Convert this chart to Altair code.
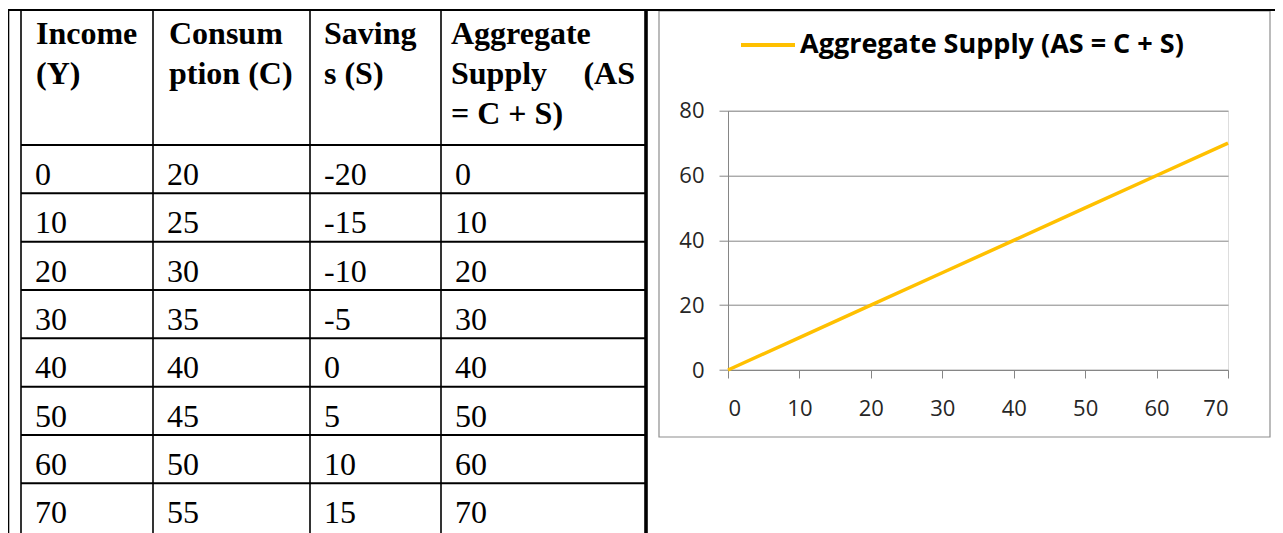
import altair as alt
import pandas as pd

# ---------------- data ----------------
income = [0, 10, 20, 30, 40, 50, 60, 70]
consumption = [20, 25, 30, 35, 40, 45, 50, 55]
saving = [-20, -15, -10, -5, 0, 5, 10, 15]
agg_supply = [0, 10, 20, 30, 40, 50, 60, 70]
header_lines = [
    ["Income", "(Y)"],
    ["Consum", "ption (C)"],
    ["Saving", "s (S)"],
    ["Aggregate", "Supply", "= C + S)"],
]
header_justified_tail = "(AS"          # right end of line 2 in column 4
series_name = "Aggregate Supply (AS = C + S)"
x_ticks = [0, 10, 20, 30, 40, 50, 60, 70]
y_ticks = [0, 20, 40, 60, 80]

# ---------------- layout (page pixels) ----------------
PAGE_W, PAGE_H = 1283, 533
ORIGIN_X, ORIGIN_Y = 728.0, 110.7        # top-left of the line chart plot area
PLOT_W, PLOT_H = 500, 259.3
MARGIN = 8
SVG_RIGHT, SVG_BOTTOM = 1275, 533

col_edges = [21, 153, 310, 441, 646]
table_top = 10
header_bottom = 145
row_h = 48.33
row_pad_x = 14
header_pad_x = [15, 16, 14, 10]
header_baselines = [44, 84, 124]
body_baseline = 40
box = dict(x=659, x2=1270, y=11, y2=437)

row_edges = [header_bottom + i * row_h for i in range(len(income))]

# ---------------- table geometry built from the data ----------------
rules = [
    dict(x=MARGIN, x2=PAGE_W, y=table_top, y2=table_top, w=2.2),
    dict(x=MARGIN + 0.5, x2=MARGIN + 0.5, y=table_top, y2=PAGE_H, w=1.6),
]
for i, cx in enumerate(col_edges):
    rules.append(dict(x=cx, x2=cx, y=table_top, y2=PAGE_H, w=3.6 if i == len(col_edges) - 1 else 1.6))
for ry in row_edges:
    rules.append(dict(x=col_edges[0], x2=col_edges[-1], y=ry, y2=ry, w=2.0))
rules_df = pd.DataFrame(rules)

head_rows = []
for c, lines in enumerate(header_lines):
    for li, t in enumerate(lines):
        head_rows.append(dict(tx=col_edges[c] + header_pad_x[c], ty=header_baselines[li], text=t))
head_df = pd.DataFrame(head_rows)
head_tail_df = pd.DataFrame([dict(tx=col_edges[4] - 11, ty=header_baselines[1], text=header_justified_tail)])

body_rows = []
for r, vals in enumerate(zip(income, consumption, saving, agg_supply)):
    for c, v in enumerate(vals):
        body_rows.append(dict(tx=col_edges[c] + row_pad_x, ty=row_edges[r] + body_baseline, text=str(v)))
body_df = pd.DataFrame(body_rows)

box_df = pd.DataFrame([box])

px = alt.Scale(domain=[0, PAGE_W], range=[-ORIGIN_X, PAGE_W - ORIGIN_X], nice=False, zero=False)
py = alt.Scale(domain=[0, PAGE_H], range=[-ORIGIN_Y, PAGE_H - ORIGIN_Y], nice=False, zero=False)

box_layer = alt.Chart(box_df).mark_rect(fill="#ffffff", fillOpacity=0, stroke="#8e8e8e", strokeWidth=1.2).encode(
    x=alt.X("x:Q", scale=px, axis=None), x2="x2:Q",
    y=alt.Y("y:Q", scale=py, axis=None), y2="y2:Q",
)
rule_layer = alt.Chart(rules_df).mark_rule(color="#000000").encode(
    x=alt.X("x:Q", scale=px, axis=None), x2="x2:Q",
    y=alt.Y("y:Q", scale=py, axis=None), y2="y2:Q",
    strokeWidth=alt.StrokeWidth("w:Q", scale=None),
)
head_layer = alt.Chart(head_df).mark_text(
    font="Liberation Serif", fontSize=32, fontWeight="bold", align="left", baseline="alphabetic", color="#000000"
).encode(
    x=alt.X("tx:Q", scale=px, axis=None), y=alt.Y("ty:Q", scale=py, axis=None), text="text:N"
)
head_tail_layer = alt.Chart(head_tail_df).mark_text(
    font="Liberation Serif", fontSize=32, fontWeight="bold", align="right", baseline="alphabetic", color="#000000"
).encode(
    x=alt.X("tx:Q", scale=px, axis=None), y=alt.Y("ty:Q", scale=py, axis=None), text="text:N"
)
body_layer = alt.Chart(body_df).mark_text(
    font="Liberation Serif", fontSize=32, align="left", baseline="alphabetic", color="#000000"
).encode(
    x=alt.X("tx:Q", scale=px, axis=None), y=alt.Y("ty:Q", scale=py, axis=None), text="text:N"
)
page_layer = alt.layer(box_layer, rule_layer, head_layer, head_tail_layer, body_layer)

# ---------------- line chart ----------------
line_df = pd.DataFrame(dict(income=income, supply=agg_supply, series=[series_name] * len(income)))
axis_common = dict(
    domainColor="#868686", tickColor="#868686", gridColor="#868686",
    labelFont="Open Sans", labelFontSize=22, labelColor="#262626", title=None,
)
line_layer = alt.Chart(line_df).mark_line(strokeWidth=3.5).encode(
    x=alt.X("income:Q", scale=alt.Scale(domain=[0, 70], nice=False, zero=False),
            axis=alt.Axis(orient="bottom", values=x_ticks, grid=False, tickSize=8, labelPadding=20, **axis_common)),
    y=alt.Y("supply:Q", scale=alt.Scale(domain=[0, 80], nice=False),
            axis=alt.Axis(orient="left", values=y_ticks, grid=True, tickSize=9, labelPadding=15, **axis_common)),
    color=alt.Color("series:N", scale=alt.Scale(range=["#FFC000"]), legend=alt.Legend(
        orient="none", legendX=11, legendY=-94.7, title=None, symbolType="stroke", symbolSize=2916,
        symbolStrokeWidth=4, labelFont="Open Sans", labelFontSize=27, labelFontWeight="bold",
        labelColor="#000000", labelOffset=3, labelLimit=1000, padding=0,
    )),
)

chart = alt.layer(page_layer, line_layer).resolve_scale(x="independent", y="independent").properties(
    width=PLOT_W, height=PLOT_H,
    autosize=alt.AutoSizeParams(type="none"),
    padding={"left": ORIGIN_X - MARGIN, "top": ORIGIN_Y - MARGIN,
             "right": SVG_RIGHT - ORIGIN_X - PLOT_W, "bottom": SVG_BOTTOM - ORIGIN_Y - PLOT_H},
).configure_view(stroke=None).configure(background="#ffffff")

chart.save("out.html", embed_options={"renderer": "svg", "actions": False})
